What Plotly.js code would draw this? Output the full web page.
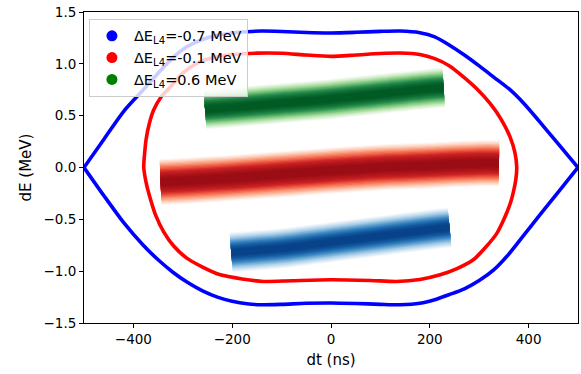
<!DOCTYPE html>
<html>
<head>
<meta charset="utf-8">
<script src="https://cdn.plot.ly/plotly-3.0.1.min.js"></script>
<style>html,body{margin:0;padding:0;background:#fff;}#chart{width:581px;height:374px;}</style>
</head>
<body>
<div id="chart"></div>
<script>
// Separatrix (blue), upper and lower halves
var blueTopX = [-500,-460,-420,-380,-350,-320,-290,-260,-230,-200,-170,-140,-100,-50,0,50,100,140,180,210,240,270,300,330,360,390,420,460,500];
var blueTopY = [0,0.27,0.54,0.75,0.91,1.06,1.17,1.235,1.275,1.298,1.31,1.316,1.312,1.302,1.298,1.304,1.313,1.316,1.30,1.26,1.18,1.085,0.98,0.87,0.76,0.62,0.455,0.227,0];
var blueBotX = [-500,-460,-420,-380,-350,-320,-290,-260,-230,-200,-170,-140,-100,-50,0,50,100,140,180,210,240,270,300,330,360,390,420,460,500];
var blueBotY = [0,-0.27,-0.53,-0.75,-0.89,-1.01,-1.11,-1.19,-1.25,-1.29,-1.315,-1.324,-1.32,-1.31,-1.307,-1.312,-1.32,-1.324,-1.31,-1.275,-1.225,-1.17,-1.09,-0.985,-0.835,-0.655,-0.475,-0.237,0];
// Closed contour (red)
var redX = [-379,-377,-374,-368,-359,-344,-325,-300,-270,-238,-200,-150,-100,-50,0,50,100,140,180,210,240,268,295,322,345,362,372,376,
            374,369,363,350,336,313,288,255,221,180,133,80,0,-80,-137,-180,-224,-260,-292,-318,-339,-355,-366,-374,-379];
var redY = [0,0.15,0.28,0.42,0.554,0.68,0.778,0.91,1.01,1.062,1.09,1.103,1.102,1.085,1.072,1.085,1.10,1.104,1.09,1.05,0.98,0.875,0.76,0.618,0.46,0.30,0.15,0,
            -0.12,-0.24,-0.345,-0.50,-0.633,-0.77,-0.89,-0.975,-1.035,-1.08,-1.099,-1.09,-1.083,-1.092,-1.099,-1.075,-1.035,-0.96,-0.874,-0.76,-0.618,-0.46,-0.296,-0.15,0];
// Particle distributions: centre lines of the three bunches
var bunchRedX = [-345,-300,-200,-100,0,100,200,300,340];
var bunchRedY = [-0.14,-0.13,-0.10,-0.065,-0.03,0.0,0.02,0.04,0.04];
var bunchGreenX = [-255,-200,-100,0,100,200,228];
var bunchGreenY = [0.56,0.58,0.62,0.66,0.71,0.76,0.77];
var bunchBlueX = [-202,-150,-100,0,100,200,240];
var bunchBlueY = [-0.82,-0.80,-0.78,-0.72,-0.66,-0.60,-0.58];
// Legend labels
var legendNames = ['ΔE<sub>L4</sub>=-0.7 MeV','ΔE<sub>L4</sub>=-0.1 MeV','ΔE<sub>L4</sub>=0.6 MeV'];
var legendColors = ['#0000ff','#ff0000','#008000'];

var traces = [];
function hex(c){return [parseInt(c.substr(1,2),16),parseInt(c.substr(3,2),16),parseInt(c.substr(5,2),16)];}
function mix(a,b,t){var A=hex(a),B=hex(b);return 'rgb('+[0,1,2].map(function(i){return Math.round(A[i]+(B[i]-A[i])*t);}).join(',')+')';}
function ramp(stops, t){
  var n=stops.length-1, s=Math.min(n-1e-9, t*n), i=Math.floor(s);
  return mix(stops[i], stops[i+1], s-i);
}
function band(xs, ys, stops, wMax, wMin, n){
  for (var i=0;i<n;i++){
    var t=i/(n-1);
    traces.push({x:xs, y:ys, mode:'lines', type:'scatter', showlegend:false, hoverinfo:'skip',
      line:{color:ramp(stops, Math.pow(t,0.9)), width:wMax-(wMax-wMin)*t, shape:'spline', smoothing:1}});
  }
}
band(bunchRedX, bunchRedY, ['#fff5f0','#fdd0bd','#fb9a7a','#ef5a42','#cc2222','#b0151c','#9a0d14'], 46, 8, 16);
band(bunchGreenX, bunchGreenY, ['#f5fbf3','#d2eecb','#9fd897','#5db46a','#23874a','#0d6d33','#005a24'], 40, 7, 16);
band(bunchBlueX, bunchBlueY, ['#f4f9fd','#d2e4f3','#a3cbe5','#5fa2d1','#2c77b7','#11589f','#084389'], 40, 7, 16);

var sm = 0.7;
traces.push({x:blueTopX, y:blueTopY, mode:'lines', showlegend:false, hoverinfo:'skip', line:{color:'#0000ff', width:3.6, shape:'spline', smoothing:sm}});
traces.push({x:blueBotX, y:blueBotY, mode:'lines', showlegend:false, hoverinfo:'skip', line:{color:'#0000ff', width:3.6, shape:'spline', smoothing:sm}});
traces.push({x:redX, y:redY, mode:'lines', showlegend:false, hoverinfo:'skip', line:{color:'#ff0000', width:3.6, shape:'spline', smoothing:sm}});

for (var k=0;k<legendNames.length;k++){
  traces.push({x:[null], y:[null], mode:'markers', type:'scatter', name:legendNames[k],
    marker:{color:legendColors[k], size:11}});
}

var font = 'DejaVu Sans, sans-serif';
var layout = {
  width:581, height:374,
  margin:{l:84, r:3, t:12, b:51, pad:0},
  paper_bgcolor:'#fff', plot_bgcolor:'#fff',
  font:{family:font, size:13, color:'#000'},
  showlegend:true,
  legend:{x:0.01, y:0.978, xanchor:'left', yanchor:'top', bgcolor:'rgba(255,255,255,0.8)',
    bordercolor:'#cccccc', borderwidth:1, font:{family:font, size:14.5, color:'#000'}, itemwidth:34,
    tracegroupgap:0},
  xaxis:{range:[-500,500], tickvals:[-400,-200,0,200,400], ticks:'outside', ticklen:4, tickwidth:1, tickcolor:'#000',
    showline:true, mirror:true, linecolor:'#000', linewidth:1, showgrid:false, zeroline:false,
    tickfont:{family:font, size:13.5, color:'#000'},
    title:{text:'dt (ns)', font:{family:font, size:15, color:'#000'}, standoff:8}},
  yaxis:{range:[-1.5,1.5], tickvals:[-1.5,-1,-0.5,0,0.5,1,1.5], tickformat:'.1f', ticks:'outside', ticklen:4, tickwidth:1, tickcolor:'#000',
    showline:true, mirror:true, linecolor:'#000', linewidth:1, showgrid:false, zeroline:false,
    tickfont:{family:font, size:13.5, color:'#000'},
    title:{text:'dE (MeV)', font:{family:font, size:15, color:'#000'}, standoff:8}}
};
Plotly.newPlot('chart', traces, layout, {staticPlot:true, displayModeBar:false});
</script>
</body>
</html>
